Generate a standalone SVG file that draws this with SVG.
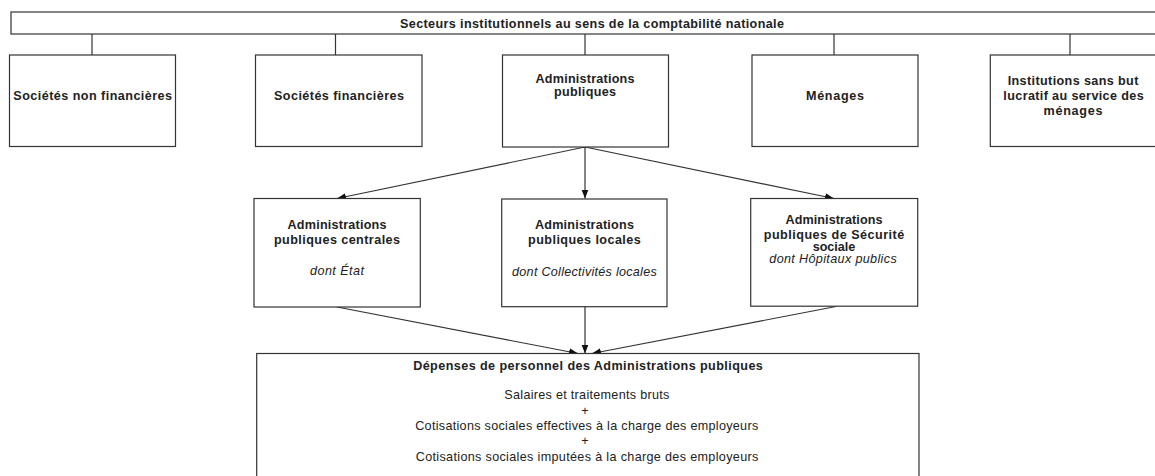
<svg xmlns="http://www.w3.org/2000/svg" width="1155" height="476" viewBox="0 0 1155 476">
<style>
.box{fill:#fff;stroke:#333;stroke-width:1.2}
.ln{fill:none;stroke:#333;stroke-width:1.2}
text{font-family:"Liberation Sans",Arial,sans-serif;font-size:12.6px;fill:#222;text-anchor:middle}
.b{font-weight:bold}
.i{font-style:italic}
</style>
<defs>
<marker id="ah" markerWidth="10" markerHeight="8" refX="9" refY="3.5" orient="auto" markerUnits="userSpaceOnUse">
<path d="M0,0 L9,3.5 L0,7 Z" fill="#111"/>
</marker>
</defs>
<rect width="1155" height="476" fill="#fff"/>
<g id="connectors">
<line class="ln" x1="92" y1="34" x2="92" y2="55"/>
<line class="ln" x1="335.5" y1="34" x2="335.5" y2="55"/>
<line class="ln" x1="585" y1="34" x2="585" y2="55"/>
<line class="ln" x1="834" y1="34" x2="834" y2="55"/>
<line class="ln" x1="1070" y1="34" x2="1070" y2="55"/>
<line class="ln" x1="585" y1="147" x2="337" y2="198.5" marker-end="url(#ah)"/>
<line class="ln" x1="585" y1="147" x2="585" y2="198.5" marker-end="url(#ah)"/>
<line class="ln" x1="585" y1="147" x2="834" y2="198.5" marker-end="url(#ah)"/>
<line class="ln" x1="337" y1="307" x2="578" y2="353.5" marker-end="url(#ah)"/>
<line class="ln" x1="585" y1="307" x2="585" y2="353.5" marker-end="url(#ah)"/>
<line class="ln" x1="836" y1="306.5" x2="592" y2="353.5" marker-end="url(#ah)"/>
</g>
<g id="secteurs">
<rect class="box" x="11" y="12" width="1170" height="22"/>
<text class="b" x="592" y="28" textLength="384" lengthAdjust="spacing">Secteurs institutionnels au sens de la comptabilité nationale</text>
</g>
<g id="snf">
<rect class="box" x="9.5" y="55" width="166" height="91.5"/>
<text class="b" x="92.7" y="100.3" textLength="158.7" lengthAdjust="spacing">Sociétés non financières</text>
</g>
<g id="sf">
<rect class="box" x="255.5" y="55" width="166.5" height="91.5"/>
<text class="b" x="339" y="100.3" textLength="130" lengthAdjust="spacing">Sociétés financières</text>
</g>
<g id="apu">
<rect class="box" x="502.5" y="55" width="166" height="92"/>
<text class="b" x="585" y="82.5" textLength="99" lengthAdjust="spacing">Administrations</text>
<text class="b" x="585" y="95.5" textLength="62" lengthAdjust="spacing">publiques</text>
</g>
<g id="menages">
<rect class="box" x="752" y="55" width="166" height="91.5"/>
<text class="b" x="835" y="100.3" textLength="58" lengthAdjust="spacing">Ménages</text>
</g>
<g id="isblsm">
<rect class="box" x="990.3" y="55" width="170" height="91.5"/>
<text class="b" x="1073" y="84.5" textLength="130.7" lengthAdjust="spacing">Institutions sans but</text>
<text class="b" x="1073.5" y="99.5" textLength="140.3" lengthAdjust="spacing">lucratif au service des</text>
<text class="b" x="1073" y="115" textLength="59" lengthAdjust="spacing">ménages</text>
</g>
<g id="apuc">
<rect class="box" x="254" y="198.5" width="166.3" height="108.5"/>
<text class="b" x="337" y="229.3" textLength="99" lengthAdjust="spacing">Administrations</text>
<text class="b" x="337" y="243.7" textLength="126" lengthAdjust="spacing">publiques centrales</text>
<text class="i" x="337" y="275" textLength="54" lengthAdjust="spacing">dont État</text>
</g>
<g id="apul">
<rect class="box" x="501.7" y="199" width="165.3" height="107.7"/>
<text class="b" x="584.4" y="229.3" textLength="99" lengthAdjust="spacing">Administrations</text>
<text class="b" x="584.4" y="243.7" textLength="112.6" lengthAdjust="spacing">publiques locales</text>
<text class="i" x="584.4" y="276" textLength="144.7" lengthAdjust="spacing">dont Collectivités locales</text>
</g>
<g id="asso">
<rect class="box" x="750.7" y="198.5" width="167" height="107.7"/>
<text class="b" x="834" y="224.3" textLength="97" lengthAdjust="spacing">Administrations</text>
<text class="b" x="834" y="238.7" textLength="140.6" lengthAdjust="spacing">publiques de Sécurité</text>
<text class="b" x="834" y="251">sociale</text>
<text class="i" x="833" y="263.3" textLength="127.4" lengthAdjust="spacing">dont Hôpitaux publics</text>
</g>
<g id="depenses">
<rect class="box" x="256.7" y="353.5" width="662.3" height="140"/>
<text class="b" x="588" y="370" textLength="349.7" lengthAdjust="spacing">Dépenses de personnel des Administrations publiques</text>
<text x="586.8" y="398.5" textLength="165" lengthAdjust="spacing">Salaires et traitements bruts</text>
<text x="585" y="414.5">+</text>
<text x="586.7" y="429.5" textLength="343" lengthAdjust="spacing">Cotisations sociales effectives à la charge des employeurs</text>
<text x="585" y="445">+</text>
<text x="587" y="460.7" textLength="342.6" lengthAdjust="spacing">Cotisations sociales imputées à la charge des employeurs</text>
</g>
</svg>
